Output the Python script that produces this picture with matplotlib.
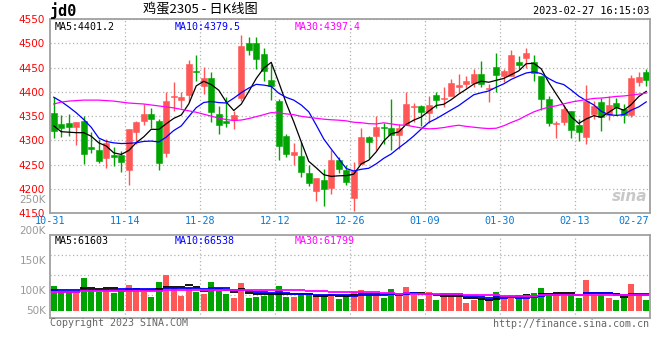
import matplotlib

matplotlib.use("Agg")
import matplotlib.pyplot as plt
import numpy as np
import pandas as pd

# ---------------------------------------------------------------------------
# Data (80 trading days 10-31 .. 02-27)
# ---------------------------------------------------------------------------

opens = [4357, 4333, 4335, 4327, 4341, 4286, 4280, 4264, 4271, 4269,
         4239, 4317, 4340, 4355, 4341, 4274, 4389, 4383, 4394, 4442,
         4413, 4428, 4355, 4340, 4342, 4387, 4501, 4501, 4478, 4425,
         4382, 4310, 4270, 4267, 4233, 4196, 4218, 4203, 4259, 4239,
         4181, 4252, 4308, 4309, 4328, 4326, 4312, 4331, 4368, 4370,
         4357, 4394, 4386, 4391, 4409, 4417, 4419, 4437, 4406, 4452,
         4432, 4433, 4462, 4469, 4462, 4432, 4385, 4334, 4338, 4360,
         4331, 4307, 4355, 4380, 4353, 4378, 4364, 4352, 4420, 4441]
highs = [4389, 4353, 4355, 4337, 4350, 4317, 4302, 4302, 4286, 4278,
         4323, 4339, 4375, 4366, 4344, 4400, 4421, 4400, 4465, 4475,
         4452, 4440, 4370, 4390, 4360, 4518, 4513, 4513, 4490, 4458,
         4385, 4314, 4295, 4296, 4249, 4222, 4241, 4280, 4266, 4249,
         4255, 4325, 4310, 4350, 4336, 4385, 4334, 4400, 4377, 4373,
         4392, 4399, 4409, 4426, 4437, 4433, 4448, 4464, 4416, 4480,
         4448, 4486, 4473, 4491, 4475, 4433, 4392, 4341, 4372, 4360,
         4345, 4414, 4382, 4387, 4391, 4387, 4376, 4434, 4441, 4447]
lows = [4304, 4307, 4309, 4290, 4251, 4274, 4254, 4244, 4248, 4235,
        4208, 4293, 4331, 4325, 4239, 4266, 4360, 4366, 4379, 4423,
        4396, 4338, 4314, 4327, 4323, 4382, 4475, 4448, 4423, 4384,
        4259, 4266, 4250, 4225, 4207, 4176, 4166, 4189, 4232, 4208,
        4154, 4252, 4264, 4280, 4293, 4280, 4282, 4331, 4338, 4329,
        4336, 4366, 4368, 4391, 4398, 4407, 4410, 4410, 4379, 4399,
        4420, 4432, 4447, 4450, 4423, 4362, 4329, 4305, 4331, 4305,
        4299, 4292, 4345, 4320, 4342, 4353, 4336, 4348, 4412, 4412]
closes = [4319, 4325, 4327, 4337, 4272, 4282, 4257, 4295, 4266, 4256,
          4323, 4337, 4355, 4344, 4254, 4382, 4392, 4390, 4458, 4440,
          4429, 4358, 4332, 4336, 4353, 4495, 4487, 4467, 4442, 4413,
          4289, 4272, 4276, 4235, 4213, 4222, 4201, 4259, 4241, 4215,
          4237, 4307, 4297, 4327, 4326, 4312, 4326, 4375, 4370, 4358,
          4373, 4384, 4387, 4418, 4415, 4423, 4437, 4417, 4407, 4435,
          4442, 4476, 4456, 4481, 4439, 4385, 4336, 4336, 4364, 4322,
          4317, 4382, 4370, 4348, 4372, 4368, 4353, 4428, 4431, 4425]
volumes = [99000, 77900, 75200, 77900, 130700, 85800, 75200, 85800, 71300, 80500,
           104300, 91100, 75200, 55400, 114800, 143900, 95000, 60700, 91100, 75200,
           67300, 114800, 80500, 68600, 52800, 110900, 51500, 55400, 58100, 70000,
           99000, 55400, 55400, 62000, 62000, 62000, 58100, 64700, 47500, 63400,
           75200, 83200, 62000, 62000, 51500, 87100, 62000, 95000, 62000, 47500,
           75200, 43600, 67300, 62000, 55400, 31700, 44900, 47500, 44900, 75200,
           55400, 63400, 51500, 63400, 71300, 91100, 67300, 62000, 64700, 62000,
           51500, 122800, 64700, 62000, 51500, 43600, 52800, 106900, 62000, 43600]

# moving-average values at the left edge (they depend on days before 10-31)
ma5_head = [4330, 4318, 4317, 4316]
ma10_head = [4389, 4380, 4369, 4357, 4343, 4327, 4305, 4298, 4295]
ma30_head = [4375, 4379, 4381, 4382, 4383, 4383, 4383, 4382, 4381, 4379,
             4377, 4376, 4375, 4373, 4371, 4369, 4367, 4364, 4361, 4358,
             4354, 4350, 4346, 4343, 4341, 4342, 4345, 4349, 4353]
vma5_head = [81800, 75000, 75000, 77000]
vma10_head = [82000, 82000, 82000, 83000, 85000, 85000, 85000, 84500, 84500]
vma30_head = [75000] * 4 + [80000] * 11 + [82000] * 12 + [83000] * 2

x_labels = ["10-31", "11-14", "11-28", "12-12", "12-26", "01-09", "01-30", "02-13", "02-27"]
x_label_idx = [0, 10, 20, 30, 40, 50, 60, 70, 80]
price_ticks = [4150, 4200, 4250, 4300, 4350, 4400, 4450, 4500, 4550]
vol_labels = ["250K", "200K", "150K", "100K", "50K"]
vol_label_y = [200, 231, 261, 291, 311]  # pixel rows in the original image

# ---------------------------------------------------------------------------

RED = "#ff5656"
GREEN = "#00a400"
MAGENTA = "#ff00ff"
BLUE = "#0000ff"
GRID = "#b2b2b2"
BORDER = "#a0a0a0"
MONO = "DejaVu Sans Mono"
W, H = 660, 360


def moving(values, n, head):
    out = pd.Series(values, dtype=float).rolling(n).mean().to_numpy()
    out[: len(head)] = head
    return out


def fx(px):
    return px / W


def fy(py):
    return 1 - py / H


n = len(closes)
xs = np.arange(n)
o = np.array(opens, float)
c = np.array(closes, float)
up = c >= o
colors = np.where(up, RED, GREEN)

fig = plt.figure(figsize=(W / 100, H / 100), dpi=100)
ax = fig.add_axes([fx(50), fy(213.3), fx(600), 194.3 / H])
axv = fig.add_axes([fx(50), fy(318), fx(600), 83.3 / H])

for a in (ax, axv):
    a.set_xlim(-0.5, n - 0.5)
    a.set_xticks([i - 0.5 for i in x_label_idx[1:-1]])
    a.tick_params(length=0, labelbottom=False)
    a.grid(True, color=GRID, linestyle=(0, (1, 2)), linewidth=0.9)
    a.set_axisbelow(True)
    for s in a.spines.values():
        s.set_color(BORDER)
        s.set_linewidth(1.3)

# --- price panel ---
ax.vlines(xs, lows, highs, colors=colors, linewidth=1.0)
body_lo = np.minimum(o, c)
body_h = np.maximum(np.abs(c - o), 1.2)
ax.bar(xs, body_h, bottom=body_lo, width=0.8, color=colors, edgecolor=colors, linewidth=0.4)
ax.plot(xs, moving(closes, 5, ma5_head), color="black", lw=0.9)
ax.plot(xs, moving(closes, 10, ma10_head), color=BLUE, lw=0.9)
ax.plot(xs, moving(closes, 30, ma30_head), color=MAGENTA, lw=0.9)
ax.set_ylim(4150, 4550)
ax.set_yticks(price_ticks)
ax.tick_params(axis="y", labelcolor="red", labelsize=7.5, pad=4)

# date labels sit in the strip between the two panels
for lab, idx in zip(x_labels, x_label_idx):
    xpix = 50 + 600 * (idx / n)
    ha = "right" if idx == n else "center"
    fig.text(fx(xpix - 1 if idx == n else xpix), fy(220.5), lab, ha=ha, va="center",
             color="#0a78d2", fontsize=7.3, family=MONO)

ax.text(0.008, 0.985, "MA5:4401.2", transform=ax.transAxes, ha="left", va="top",
        fontsize=7.2, family=MONO, color="black")
ax.text(0.208, 0.985, "MA10:4379.5", transform=ax.transAxes, ha="left", va="top",
        fontsize=7.2, family=MONO, color=BLUE)
ax.text(0.408, 0.985, "MA30:4397.4", transform=ax.transAxes, ha="left", va="top",
        fontsize=7.2, family=MONO, color=MAGENTA)
ax.text(0.995, 0.05, "sina", transform=ax.transAxes, ha="right", va="bottom",
        fontsize=11, style="italic", fontweight="bold", color="#c8c8c8")

# --- volume panel ---
axv.bar(xs, volumes, width=0.8, color=colors)
for vals, head, col in ((5, vma5_head, "black"), (10, vma10_head, BLUE),
                        (30, vma30_head, MAGENTA)):
    axv.hlines(moving(volumes, vals, head), xs - 0.5, xs + 0.5, colors=col, linewidth=1.3)
axv.set_ylim(-27700, 302000)
axv.set_yticks([63400, 142600, 221800])
axv.tick_params(axis="y", labelleft=False)

axv.text(0.008, 0.99, "MA5:61603", transform=axv.transAxes, ha="left", va="top",
         fontsize=7.2, family=MONO, color="black")
axv.text(0.208, 0.99, "MA10:66538", transform=axv.transAxes, ha="left", va="top",
         fontsize=7.2, family=MONO, color=BLUE)
axv.text(0.408, 0.99, "MA30:61799", transform=axv.transAxes, ha="left", va="top",
         fontsize=7.2, family=MONO, color=MAGENTA)

for lab, py in zip(vol_labels, vol_label_y):
    fig.text(fx(46), fy(py), lab, ha="right", va="center", fontsize=7.5, color="#999999")

# --- header / footer ---
fig.text(fx(50), fy(10.5), "jd0", ha="left", va="center", fontsize=11,
         fontweight="bold", family=MONO)
fig.text(fx(200), fy(10), "鸡蛋2305 - 日K线图", ha="center", va="center", fontsize=9.5,
         family=["Noto Sans CJK SC", "DejaVu Sans"])
fig.text(fx(649), fy(11.5), "2023-02-27 16:15:03", ha="right", va="center",
         fontsize=7.4, family=MONO)
fig.text(fx(50), fy(323), "Copyright 2023 SINA.COM", ha="left", va="center",
         fontsize=7.2, family=MONO, color="#666666")
fig.text(fx(649), fy(324), "http://finance.sina.com.cn", ha="right", va="center",
         fontsize=7.2, family=MONO, color="#666666")

fig.savefig("out.png", dpi=100)
